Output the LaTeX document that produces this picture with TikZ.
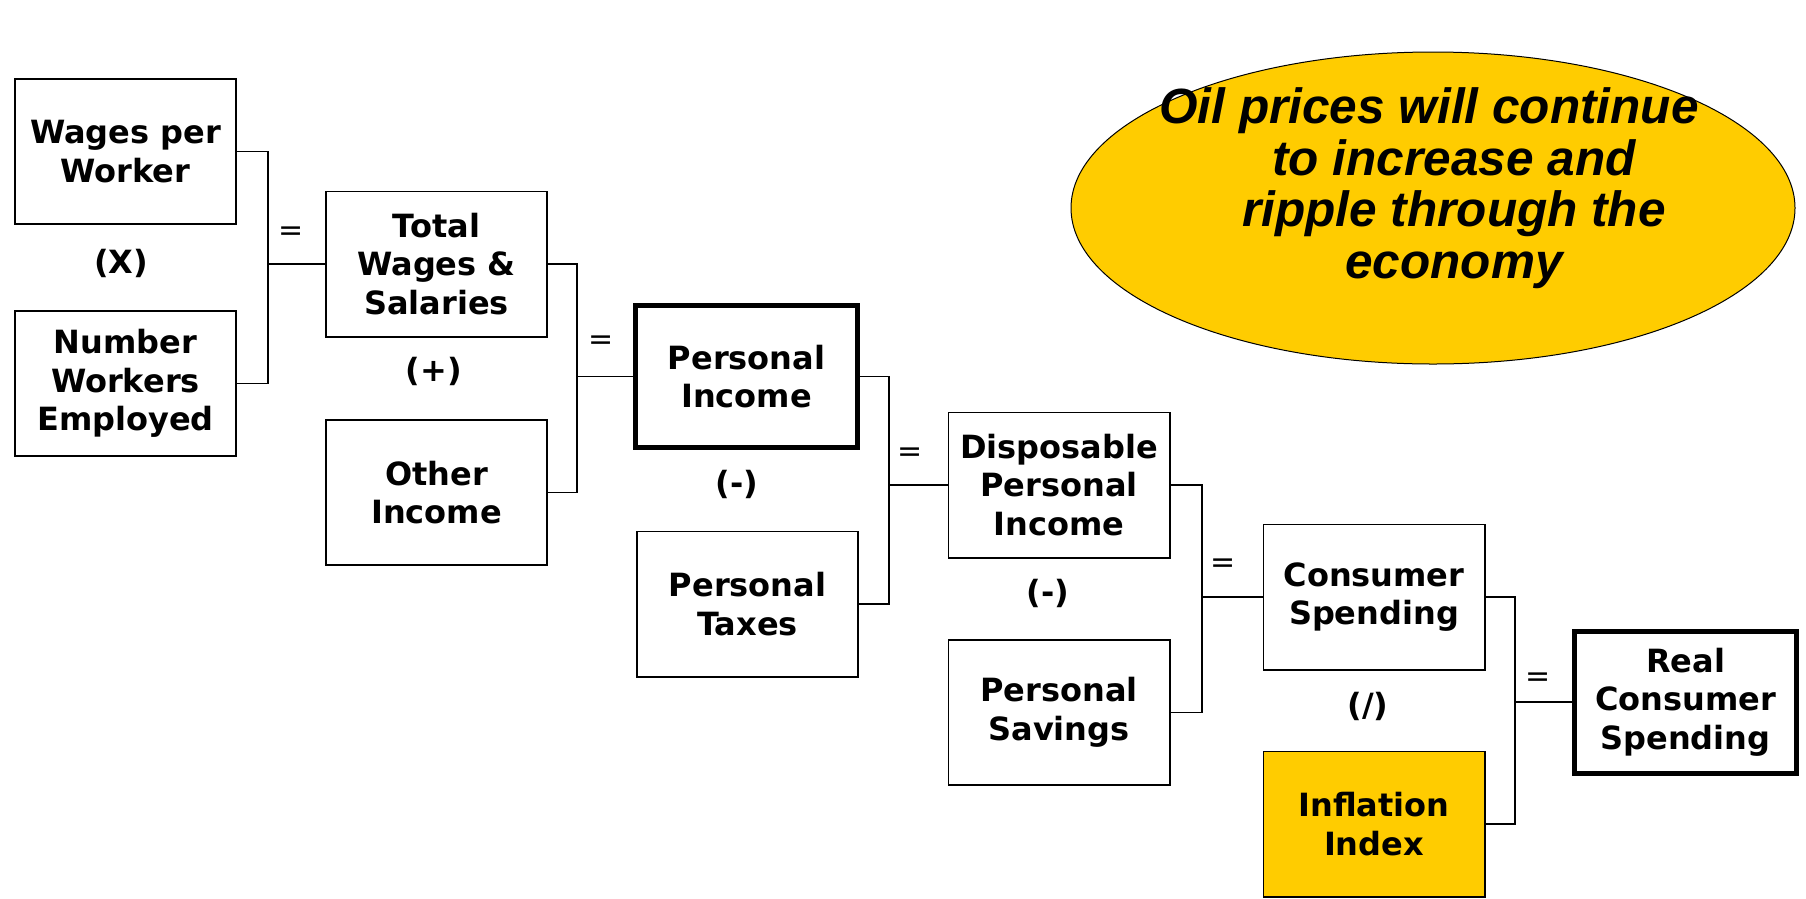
\documentclass[tikz,border=0pt]{standalone}
\usepackage{fontspec}
\setmainfont{DejaVu Sans}
\newfontfamily\ovalfont{Liberation Sans}
\usetikzlibrary{shapes.geometric}
\definecolor{gold}{HTML}{FFCC00}
\begin{document}
\begin{tikzpicture}[x=1pt,y=-1pt,
  box/.style={draw, line width=1.6pt, minimum width=221.4pt, minimum height=145.4pt,
    inner sep=0pt, align=center, font=\fontsize{32}{38.5}\selectfont\bfseries},
  keybox/.style={box, line width=5pt, minimum width=222pt, minimum height=142pt},
  op/.style={font=\fontsize{32}{38}\selectfont\bfseries, inner sep=0pt},
  eq/.style={font=\fontsize{30}{36}\selectfont, inner sep=0pt},
  wire/.style={line width=1.6pt, line join=miter}]
\useasboundingbox (0,0) rectangle (1806,898);

% headline oval
\node[ellipse, draw, line width=1pt, fill=gold, minimum width=724pt,
      minimum height=312pt, inner sep=0pt] (oval) at (1433,208) {};
\node[font=\fontsize{49.5}{51.5}\selectfont\ovalfont\bfseries\itshape, align=center,
      inner sep=0pt] (msg) at (1454,188)
  {Oil prices will continue\hspace*{50pt}\\to increase and\\ripple through the\\economy};

% boxes
\node[box] (wpw) at (125.5,151.5) {Wages per\\Worker};
\node[box] (nwe) at (125.5,383.5) {Number\\Workers\\Employed};
\node[box] (tws) at (436.5,264) {Total\\Wages \&\\Salaries};
\node[box] (oth) at (436.5,492.5) {Other\\Income};
\node[keybox] (pin) at (746.5,376.5) {Personal\\Income};
\node[box] (ptx) at (747.5,604) {Personal\\Taxes};
\node[box] (dpi) at (1059,485) {Disposable\\Personal\\Income};
\node[box] (psv) at (1059,712.5) {Personal\\Savings};
\node[box] (csp) at (1374,597) {Consumer\\Spending};
\node[box, fill=gold] (inf) at (1374,824) {Inflation\\Index};
\node[keybox] (rcs) at (1685.5,702) {Real\\Consumer\\Spending};

% junction buses
\coordinate (j1) at (268,0);
\coordinate (j2) at (577,0);
\coordinate (j3) at (889,0);
\coordinate (j4) at (1202,0);
\coordinate (j5) at (1515,0);

\draw[wire] (wpw.east) -- (wpw.east -| j1) -- (nwe.east -| j1) -- (nwe.east);
\draw[wire] (j1 |- tws.west) -- (tws.west);
\draw[wire] (tws.east) -- (tws.east -| j2) -- (oth.east -| j2) -- (oth.east);
\draw[wire] (j2 |- pin.west) -- (pin.west);
\draw[wire] (pin.east) -- (pin.east -| j3) -- (ptx.east -| j3) -- (ptx.east);
\draw[wire] (j3 |- dpi.west) -- (dpi.west);
\draw[wire] (dpi.east) -- (dpi.east -| j4) -- (psv.east -| j4) -- (psv.east);
\draw[wire] (j4 |- csp.west) -- (csp.west);
\draw[wire] (csp.east) -- (csp.east -| j5) -- (inf.east -| j5) -- (inf.east);
\draw[wire] (j5 |- rcs.west) -- (rcs.west);

% operators
\node[op] (o1) at (121,263) {(X)};
\node[op] (o2) at (434,371) {(+)};
\node[op] (o3) at (737,484) {(-)};
\node[op] (o4) at (1048,593) {(-)};
\node[op] (o5) at (1368,706) {(/)};

\node[eq] (e1) at (291,234) {=};
\node[eq] (e2) at (601,343) {=};
\node[eq] (e3) at (910,455) {=};
\node[eq] (e4) at (1223,566) {=};
\node[eq] (e5) at (1538,680) {=};
\end{tikzpicture}
\end{document}
